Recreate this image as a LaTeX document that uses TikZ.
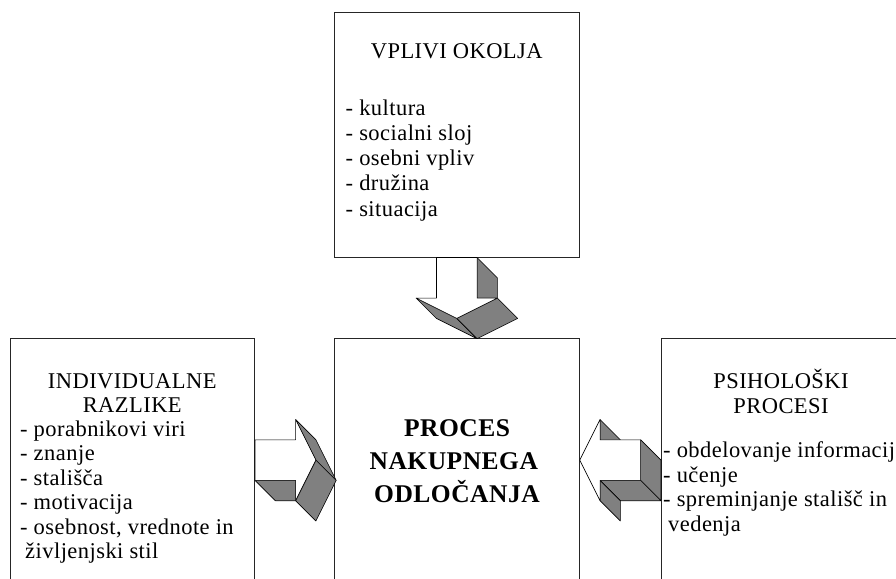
\documentclass[tikz,border=0pt]{standalone}
\usepackage{fontspec}
\setmainfont[LetterSpace=2]{Liberation Serif}
\tikzset{
  box/.style={draw=black!85, line width=1pt, minimum width=244.5, minimum height=244.2, inner sep=0},
  txt/.style={font=\fontsize{22.5}{24.5}\selectfont, inner sep=0},
  bigtxt/.style={font=\fontsize{25.5}{33}\selectfont\bfseries, inner sep=0},
  side/.style={draw=black, line width=0.6pt, fill=black!50, line join=round},
  front/.style={draw=black, line width=0.6pt, fill=white, line join=round},
}
\begin{document}
\begin{tikzpicture}[x=1pt, y=-1pt]
\useasboundingbox (0,0) rectangle (896,578);

% boxes
\node[box] (okolje) at (456.75, 134.9) {};
\node[box] (razlike) at (132.25, 460.1) {};
\node[box] (proces) at (457, 460.1) {};
\node[box] (psiho) at (783.25, 460.1) {};

% vplivi okolja
\node[txt, anchor=base] (okolje-n) at (456.75, 59) {VPLIVI OKOLJA};
\foreach \t [count=\i] in {kultura, socialni sloj, osebni vpliv, družina, situacija}
  \node[txt, anchor=base west] (okolje-\i) at (345.5, 89.7+25.3*\i) {- \t};

% individualne razlike
\node[txt, anchor=base] (razlike-n1) at (132.25, 388) {INDIVIDUALNE};
\node[txt, anchor=base] (razlike-n2) at (132.25, 412.5) {RAZLIKE};
\foreach \t [count=\i] in {porabnikovi viri, znanje, stališča, motivacija, {osebnost, vrednote in}}
  \node[txt, anchor=base west] (razlike-\i) at (20, 412+24.4*\i) {- \t};
\node[txt, anchor=base west] (razlike-6) at (25, 558) {življenjski stil};

% psihološki procesi
\node[txt, anchor=base] (psiho-n1) at (781, 388) {PSIHOLOŠKI};
\node[txt, anchor=base] (psiho-n2) at (781, 413) {PROCESI};
\foreach \t [count=\i] in {obdelovanje informacij, učenje, spreminjanje stališč in}
  \node[txt, anchor=base west] (psiho-\i) at (663, 433+24.6*\i) {- \t};
\node[txt, anchor=base west] (psiho-4) at (668, 531.6) {vedenja};

% proces
\foreach \t [count=\i] in {PROCES, NAKUPNEGA\kern.25em, ODLOČANJA}
  \node[bigtxt, anchor=base] (proces-\i) at (457, 402.6+33.4*\i) {\t};

% arrow down
\begin{scope}[shift={(okolje.south)}, x=20.3pt, y=-20.3pt]
  \draw[side] (1,0) -- (2,1) -- (2,2) -- (1,2) -- cycle;
  \draw[side] (-2,2) -- (0,3) -- (1,4) -- (-1,3) -- cycle;
  \draw[side] (0,3) -- (2,2) -- (3,3) -- (1,4) -- cycle;
  \draw[front] (-1,0) -- (1,0) -- (1,2) -- (2,2) -- (0,3) -- (-2,2) -- (-1,2) -- cycle;
\end{scope}

% arrow right
\begin{scope}[shift={(razlike.east)}, x=20.3pt, y=-20.3pt]
  \draw[side] (0,1) -- (2,1) -- (2,2) -- (1,2) -- cycle;
  \draw[side] (2,-2) -- (3,0) -- (4,1) -- (3,-1) -- cycle;
  \draw[side] (3,0) -- (2,2) -- (3,3) -- (4,1) -- cycle;
  \draw[front] (0,-1) -- (2,-1) -- (2,-2) -- (3,0) -- (2,2) -- (2,1) -- (0,1) -- cycle;
\end{scope}

% arrow left
\begin{scope}[shift={(proces.east)}, x=20.3pt, y=-20.3pt]
  \draw[side] (1,-2) -- (1,-1) -- (2,0) -- (2,-1) -- cycle;
  \draw[side] (3,-1) -- (4,0) -- (4,2) -- (3,1) -- cycle;
  \draw[side] (1,1) -- (3,1) -- (4,2) -- (2,2) -- cycle;
  \draw[side] (1,1) -- (1,2) -- (2,3) -- (2,2) -- cycle;
  \draw[front] (0,0) -- (1,-2) -- (1,-1) -- (3,-1) -- (3,1) -- (1,1) -- (1,2) -- cycle;
\end{scope}
\end{tikzpicture}
\end{document}
